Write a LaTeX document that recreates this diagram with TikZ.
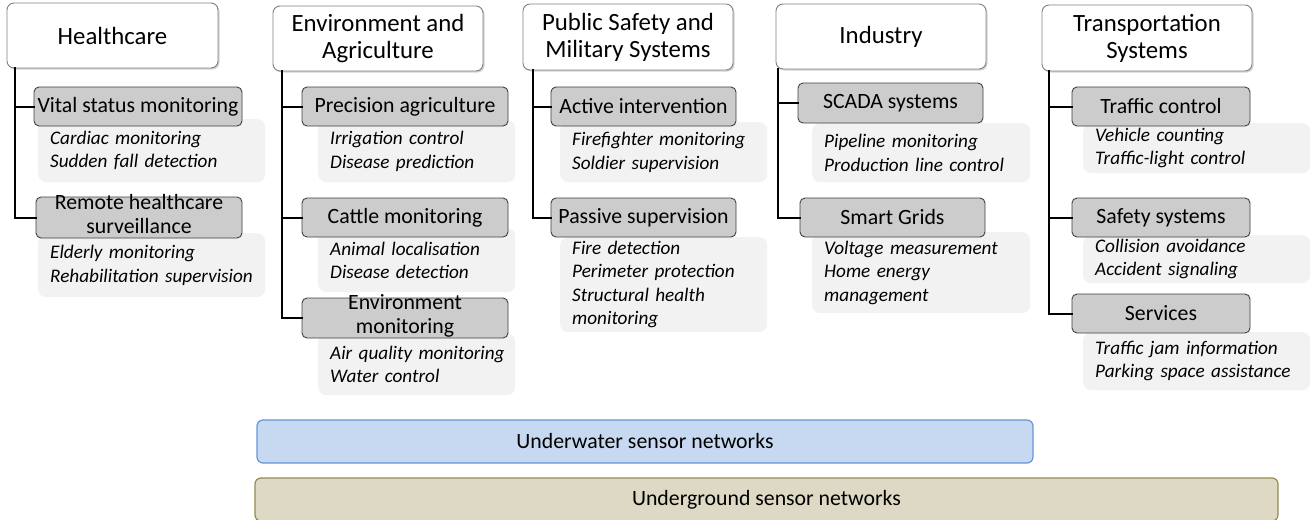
\documentclass[tikz,border=0pt]{standalone}
\usepackage{fontspec}
\setmainfont{Carlito}
\usetikzlibrary{shadows}
\definecolor{catborder}{RGB}{128,128,128}
\definecolor{subfill}{RGB}{204,204,204}
\definecolor{subborder}{RGB}{64,64,64}
\definecolor{detfill}{RGB}{242,242,242}
\definecolor{bluefill}{RGB}{198,217,241}
\definecolor{blueborder}{RGB}{100,150,215}
\definecolor{tanfill}{RGB}{221,217,196}
\definecolor{tanborder}{RGB}{148,138,84}
\tikzset{
  cat/.style={draw=catborder, line width=0.9pt, fill=white, rounded corners=7pt, align=center,
    inner sep=0pt, font=\fontsize{24.8}{27}\selectfont,
    drop shadow={shadow xshift=1.5pt, shadow yshift=-1.5pt, opacity=0.35}},
  sub/.style={draw=subborder, line width=0.9pt, fill=subfill, rounded corners=5pt, align=center,
    inner sep=0pt, font=\fontsize{21.8}{24}\selectfont},
  det/.style={fill=detfill, rounded corners=8pt, anchor=north west, align=left,
    inner xsep=12pt, inner ysep=0pt, font=\fontsize{19.2}{23.5}\selectfont\itshape},
  conn/.style={line width=2pt, line cap=rect},
  bar/.style={rounded corners=6pt, line width=1.2pt, font=\fontsize{21.8}{24}\selectfont}
}
\newcommand{\twoline}[3]{\raisebox{#3}{\smash{\parbox[c]{200pt}{\centering #1\\#2}}}}
\begin{document}
\begin{tikzpicture}[x=1pt,y=-1pt]
\useasboundingbox (0,0) rectangle (1316,519);
% detail boxes
\node[det, minimum width=227, minimum height=63, text width=203] (hd1) at (38,119) {Cardiac monitoring\\Sudden fall detection};
\node[det, minimum width=227, minimum height=64, text width=203] (hd2) at (38,233) {Elderly monitoring\\Rehabilitation supervision};
\node[det, minimum width=197, minimum height=62, text width=173] (ed1) at (318,120) {Irrigation control\\Disease prediction};
\node[det, minimum width=197, minimum height=64, text width=173] (ed2) at (318,228) {Animal localisation\\Disease detection};
\node[det, minimum width=197, minimum height=62, text width=173] (ed3) at (318,333) {\mbox{Air quality monitoring}\\\mbox{Water control}};
\node[det, minimum width=207, minimum height=60, text width=183] (pd1) at (560,122) {Firefighter monitoring\\Soldier supervision};
\node[det, minimum width=207, minimum height=95, text width=183] (pd2) at (560,237) {Fire detection\\Perimeter protection\\Structural health\\monitoring};
\node[det, minimum width=218, minimum height=59, text width=194] (id1) at (812,123) {Pipeline monitoring\\Production line control};
\node[det, minimum width=218, minimum height=81, text width=194] (id2) at (812,232) {Voltage measurement\\Home energy\\management};
\node[det, minimum width=227, minimum height=50, text width=203] (td1) at (1083,123) {Vehicle counting\\Traffic-light control};
\node[det, minimum width=227, minimum height=48, text width=203] (td2) at (1083,235) {Collision avoidance\\Accident signaling};
\node[det, minimum width=227, minimum height=58, text width=203] (td3) at (1083,332) {Traffic jam information\\Parking space assistance};
% category boxes
\node[cat, minimum width=211, minimum height=65] (hc) at (112.5,35.5) {Healthcare};
\node[cat, minimum width=210, minimum height=65] (ea) at (378,38.5) {Environment and\\Agriculture};
\node[cat, minimum width=210, minimum height=66] (ps) at (628,37) {Public Safety and\\Military Systems};
\node[cat, minimum width=210, minimum height=65] (in) at (881,36.5) {Industry};
\node[cat, minimum width=210, minimum height=66] (ts) at (1147,38) {Transportation\\Systems};
% sub boxes
\node[sub, minimum width=208, minimum height=39] (hs1) at (138,106.5) {Vital status monitoring};
\node[sub, minimum width=206, minimum height=41] (hs2) at (139,217.5) {\twoline{Remote healthcare}{surveillance}{-4pt}};
\node[sub, minimum width=206, minimum height=39] (es1) at (405,106.5) {Precision agriculture};
\node[sub, minimum width=206, minimum height=39] (es2) at (405,217.5) {Cattle monitoring};
\node[sub, minimum width=206, minimum height=40] (es3) at (405,318) {\twoline{Environment}{monitoring}{-6pt}};
\node[sub, minimum width=185, minimum height=39] (ps1) at (643.5,106.5) {Active intervention};
\node[sub, minimum width=185, minimum height=39] (ps2) at (643.5,217.5) {Passive supervision};
\node[sub, minimum width=185, minimum height=40] (is1) at (890.5,103) {SCADA systems};
\node[sub, minimum width=185, minimum height=39] (is2) at (892.5,217.5) {Smart Grids};
\node[sub, minimum width=178, minimum height=39] (ts1) at (1161,106.5) {Traffic control};
\node[sub, minimum width=178, minimum height=39] (ts2) at (1161,217.5) {Safety systems};
\node[sub, minimum width=178, minimum height=39] (ts3) at (1161,313.5) {Services};
% connectors
\draw[conn] (hc.south west) ++(8,0) |- (hs2.west);
\draw[conn] (hc.south west) ++(8,0) |- (hs1.west);
\draw[conn] (ea.south west) ++(9,0) |- (es3.west);
\draw[conn] (ea.south west) ++(9,0) |- (es2.west);
\draw[conn] (ea.south west) ++(9,0) |- (es1.west);
\draw[conn] (ps.south west) ++(10,0) |- (ps2.west);
\draw[conn] (ps.south west) ++(10,0) |- (ps1.west);
\draw[conn] (in.south west) ++(2,0) |- (is2.west);
\draw[conn] (in.south west) ++(2,0) |- (is1.west);
\draw[conn] (ts.south west) ++(7,0) |- (ts3.west);
\draw[conn] (ts.south west) ++(7,0) |- (ts2.west);
\draw[conn] (ts.south west) ++(7,0) |- (ts1.west);
% bars
\node[bar, draw=blueborder, fill=bluefill, minimum width=776, minimum height=43] (uw) at (645,441.5) {Underwater sensor networks};
\node[bar, draw=tanborder, fill=tanfill, minimum width=1023, minimum height=43] (ug) at (766.5,499.5) {Underground sensor networks};
\end{tikzpicture}
\end{document}
